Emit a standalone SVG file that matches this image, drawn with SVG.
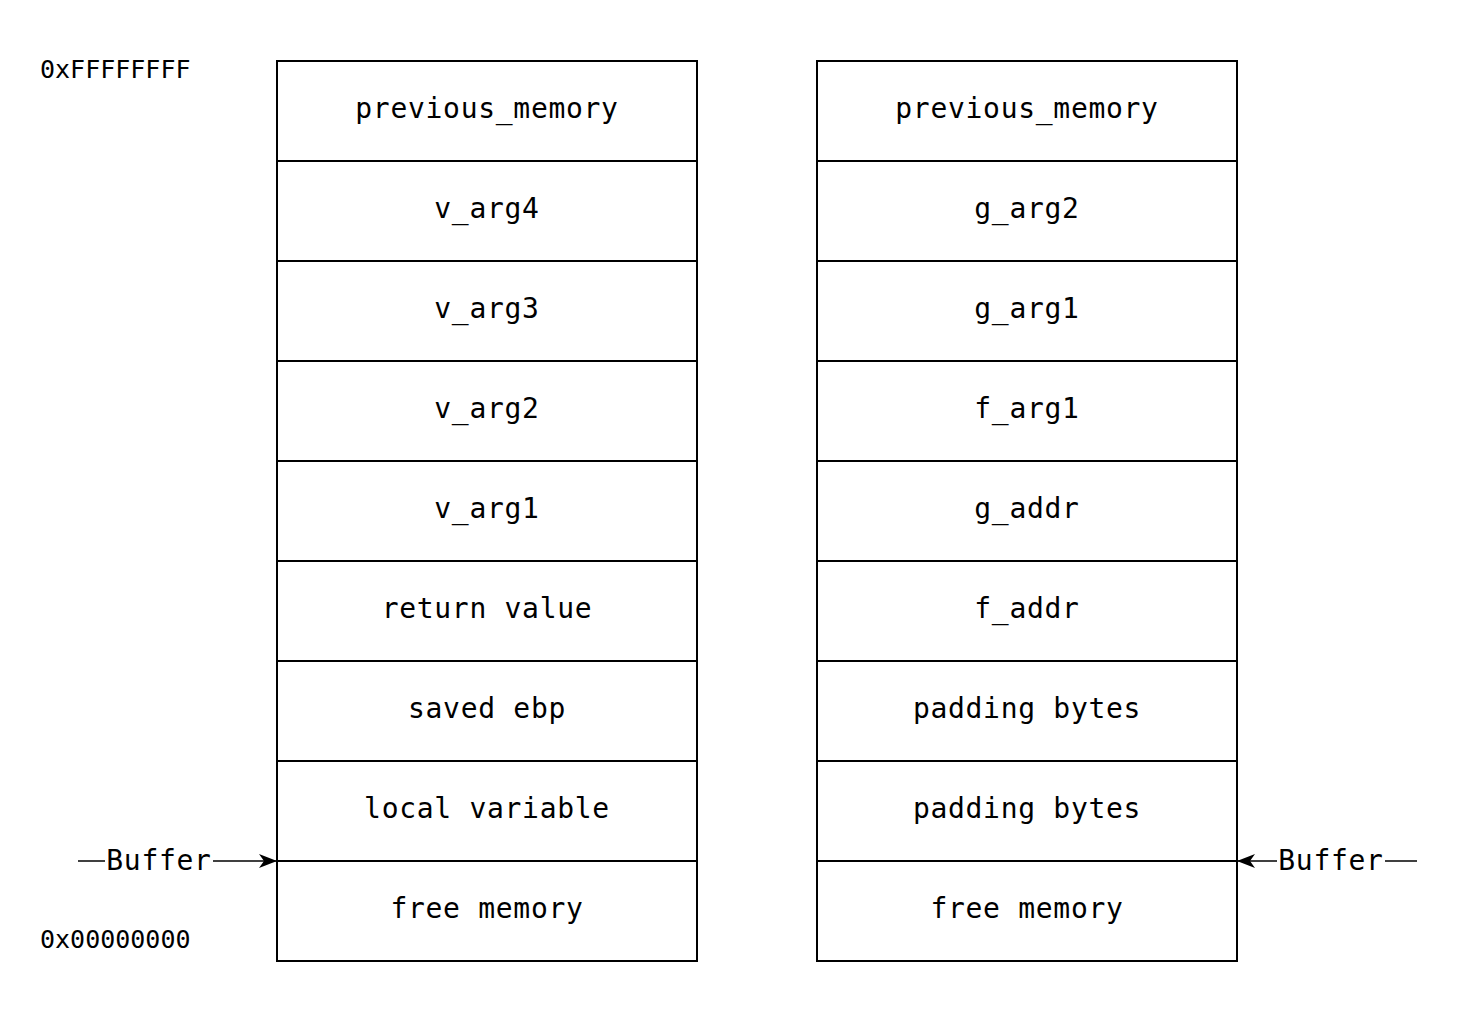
<svg xmlns="http://www.w3.org/2000/svg" width="1474" height="1010" viewBox="0 0 1474 1010">
<defs>
<style>
.cell{fill:#fff;stroke:#000;stroke-width:2}
.t{font-family:"DejaVu Sans Mono","Liberation Mono",monospace;font-size:28px;letter-spacing:0.7px;fill:#000;text-anchor:middle}
.a{font-family:"DejaVu Sans Mono","Liberation Mono",monospace;font-size:25px;fill:#000}
.ln{stroke:#000;stroke-width:1.5;fill:none}
</style>
<marker id="ah" viewBox="0 0 18 16" refX="17" refY="8" markerWidth="18" markerHeight="16" markerUnits="userSpaceOnUse" orient="auto">
<path d="M0,1 L18,8 L0,15 L5,8 Z" fill="#000"/>
</marker>
</defs>
<rect width="1474" height="1010" fill="#fff"/>
<g id="addr-labels">
<text class="a" x="40" y="78">0xFFFFFFFF</text>
<text class="a" x="40" y="948">0x00000000</text>
</g>
<g id="left-stack">
<g id="l1"><rect class="cell" x="277" y="61" width="420" height="100"/><text class="t" x="487" y="118">previous_memory</text></g>
<g id="l2"><rect class="cell" x="277" y="161" width="420" height="100"/><text class="t" x="487" y="218">v_arg4</text></g>
<g id="l3"><rect class="cell" x="277" y="261" width="420" height="100"/><text class="t" x="487" y="318">v_arg3</text></g>
<g id="l4"><rect class="cell" x="277" y="361" width="420" height="100"/><text class="t" x="487" y="418">v_arg2</text></g>
<g id="l5"><rect class="cell" x="277" y="461" width="420" height="100"/><text class="t" x="487" y="518">v_arg1</text></g>
<g id="l6"><rect class="cell" x="277" y="561" width="420" height="100"/><text class="t" x="487" y="618">return value</text></g>
<g id="l7"><rect class="cell" x="277" y="661" width="420" height="100"/><text class="t" x="487" y="718">saved ebp</text></g>
<g id="l8"><rect class="cell" x="277" y="761" width="420" height="100"/><text class="t" x="487" y="818">local variable</text></g>
<g id="l9"><rect class="cell" x="277" y="861" width="420" height="100"/><text class="t" x="487" y="918">free memory</text></g>
</g>
<g id="right-stack">
<g id="r1"><rect class="cell" x="817" y="61" width="420" height="100"/><text class="t" x="1027" y="118">previous_memory</text></g>
<g id="r2"><rect class="cell" x="817" y="161" width="420" height="100"/><text class="t" x="1027" y="218">g_arg2</text></g>
<g id="r3"><rect class="cell" x="817" y="261" width="420" height="100"/><text class="t" x="1027" y="318">g_arg1</text></g>
<g id="r4"><rect class="cell" x="817" y="361" width="420" height="100"/><text class="t" x="1027" y="418">f_arg1</text></g>
<g id="r5"><rect class="cell" x="817" y="461" width="420" height="100"/><text class="t" x="1027" y="518">g_addr</text></g>
<g id="r6"><rect class="cell" x="817" y="561" width="420" height="100"/><text class="t" x="1027" y="618">f_addr</text></g>
<g id="r7"><rect class="cell" x="817" y="661" width="420" height="100"/><text class="t" x="1027" y="718">padding bytes</text></g>
<g id="r8"><rect class="cell" x="817" y="761" width="420" height="100"/><text class="t" x="1027" y="818">padding bytes</text></g>
<g id="r9"><rect class="cell" x="817" y="861" width="420" height="100"/><text class="t" x="1027" y="918">free memory</text></g>
</g>
<g id="connectors">
<line class="ln" x1="78" y1="861" x2="105" y2="861"/>
<line class="ln" x1="213" y1="861" x2="276" y2="861" marker-end="url(#ah)"/>
<text class="t" x="159" y="870">Buffer</text>
<line class="ln" x1="1417" y1="861" x2="1385" y2="861"/>
<line class="ln" x1="1277" y1="861" x2="1238" y2="861" marker-end="url(#ah)"/>
<text class="t" x="1331" y="870">Buffer</text>
</g>
</svg>
